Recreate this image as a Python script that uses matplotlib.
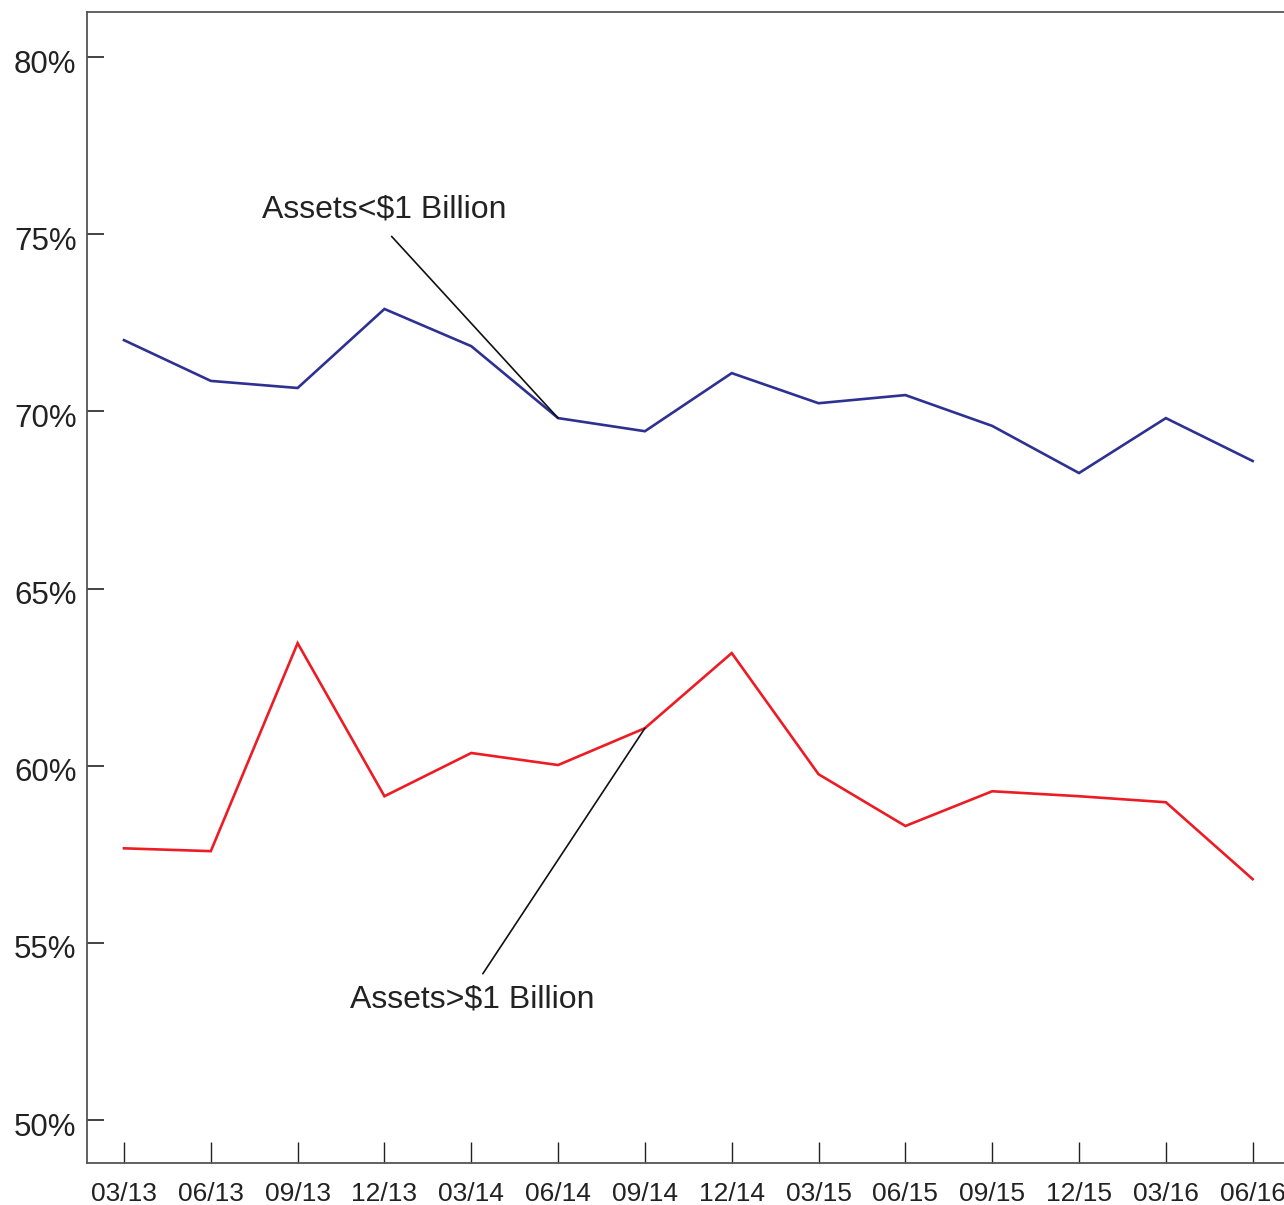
import matplotlib
matplotlib.use("Agg")
import matplotlib.pyplot as plt
import matplotlib.transforms as mtransforms
from matplotlib.ticker import FuncFormatter

# Efficiency ratio by bank size, quarterly
quarters = ["03/13", "06/13", "09/13", "12/13", "03/14", "06/14", "09/14",
            "12/14", "03/15", "06/15", "09/15", "12/15", "03/16", "06/16"]
small_banks = [72.01, 70.86, 70.66, 72.89, 71.84, 69.81, 69.44,
               71.08, 70.23, 70.46, 69.59, 68.26, 69.81, 68.60]
large_banks = [57.67, 57.59, 63.46, 59.14, 60.36, 60.02, 61.06,
               63.18, 59.76, 58.30, 59.28, 59.14, 58.97, 56.80]
y_ticks = [50, 55, 60, 65, 70, 75, 80]

plt.rcParams['font.family'] = ['Liberation Sans', 'DejaVu Sans']

fig = plt.figure(figsize=(12.84, 12.05), dpi=100)
ax = fig.add_axes([87 / 1284, 1 - 1163 / 1205, 1203 / 1284, 1151 / 1205])

x = list(range(len(quarters)))
ax.plot(x, small_banks, color='#2e3192', lw=1.9, solid_joinstyle='miter')
ax.plot(x, large_banks, color='#ed1c24', lw=1.9, solid_joinstyle='miter')

ax.set_xlim(-0.426, 13.43)
ax.set_ylim(48.79, 81.27)
ax.set_xticks(x)
ax.set_xticklabels(quarters, fontsize=19)
ax.set_yticks(y_ticks)
ax.yaxis.set_major_formatter(FuncFormatter(lambda v, p: f"{v:.0f}%"))
ax.tick_params(axis='y', direction='in', length=12, width=1.2, labelsize=22.5, pad=7.5,
               colors='#222222')
ax.tick_params(axis='x', direction='in', length=15, width=1.0, pad=14, colors='#222222')

# y labels sit a little below their ticks in the original
shift = mtransforms.ScaledTranslation(0, -4 / 100, fig.dpi_scale_trans)
for lbl in ax.get_yticklabels():
    lbl.set_transform(lbl.get_transform() + shift)

for side in ['top', 'left', 'bottom']:
    ax.spines[side].set_color('#555555')
    ax.spines[side].set_linewidth(1.3)
ax.spines['right'].set_visible(False)

ax.annotate("Assets<$1 Billion", xy=(5, small_banks[5]), xytext=(1.59, 75.7),
            fontsize=23, color='#222222', ha='left', va='center',
            arrowprops=dict(arrowstyle='-', color='#111111', lw=1.2, shrinkA=9,
                            shrinkB=0, relpos=(0.485, 0.0)))
ax.annotate("Assets>$1 Billion", xy=(6, large_banks[6]), xytext=(2.6, 53.4),
            fontsize=23, color='#222222', ha='left', va='center',
            arrowprops=dict(arrowstyle='-', color='#111111', lw=1.2, shrinkA=7,
                            shrinkB=0, relpos=(0.515, 1.0)))

fig.text(140 / 1284, 1 + 14 / 1205, "Efficiency Ratio (%)", fontsize=23,
         color='#222222', ha='left', va='baseline')

fig.savefig("out.png", dpi=100)
